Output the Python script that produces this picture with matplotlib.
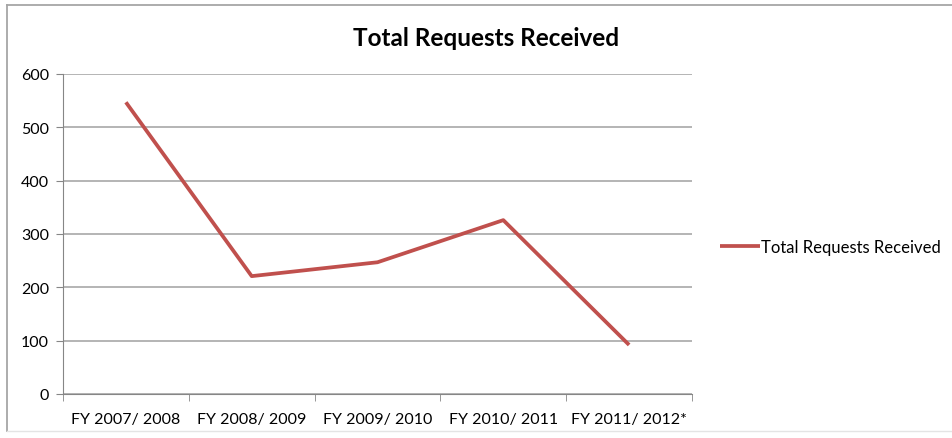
import matplotlib.pyplot as plt

categories = ['FY 2007/ 2008', 'FY 2008/ 2009', 'FY 2009/ 2010', 'FY 2010/ 2011', 'FY 2011/ 2012*']
requests = [547, 221, 247, 326, 92]
yticks = [0, 100, 200, 300, 400, 500, 600]

plt.rcParams['font.family'] = ['Lato', 'DejaVu Sans']

fig = plt.figure(figsize=(9.52, 4.39), dpi=100)
ax = fig.add_axes([63 / 952, 1 - 395 / 439, 629 / 952, 320 / 439])

# outer chart frame: left and top edges, faint bottom edge
W, H = 952, 439
fig.add_artist(plt.Line2D([7 / W, 7 / W], [1 - 432 / H, 1 - 6 / H], transform=fig.transFigure,
                          color='#a6a6a6', linewidth=1.3))
fig.add_artist(plt.Line2D([7 / W, 1.0], [1 - 6 / H, 1 - 6 / H], transform=fig.transFigure,
                          color='#a6a6a6', linewidth=1.3))
fig.add_artist(plt.Line2D([7 / W, 1.0], [1 - 432 / H, 1 - 432 / H], transform=fig.transFigure,
                          color='#e4e4e4', linewidth=1.0))

x = list(range(len(categories)))
ax.plot(x, requests, color='#C0504D', linewidth=2.7, label='Total Requests Received',
        solid_capstyle='butt')

ax.set_xlim(-0.5, len(categories) - 0.5)
ax.set_ylim(0, 600)
ax.set_yticks(yticks)
ax.set_xticks(x)
ax.set_xticklabels(categories)
ax.set_xticks([i - 0.5 for i in range(len(categories) + 1)], minor=True)
ax.tick_params(axis='x', which='major', length=0, pad=13, labelsize=11.5, colors='black')
ax.tick_params(axis='x', which='minor', length=5, color='#868686', direction='out')
ax.tick_params(axis='y', length=5, color='#868686', labelsize=11.5, pad=5)

ax.grid(axis='y', color='#a0a0a0', linewidth=1.1)
ax.set_axisbelow(True)
for s in ['top', 'right']:
    ax.spines[s].set_visible(False)
for s in ['left', 'bottom']:
    ax.spines[s].set_color('#868686')

fig.text(486 / W, 1 - 38 / H, 'Total Requests Received', ha='center', va='center',
         fontsize=17.5, fontweight='bold')

ax.legend(loc='center left', bbox_to_anchor=(1.02, 0.46), frameon=False,
          fontsize=12, handlelength=2.4, handletextpad=0.1)

fig.savefig('out.png', dpi=100)
